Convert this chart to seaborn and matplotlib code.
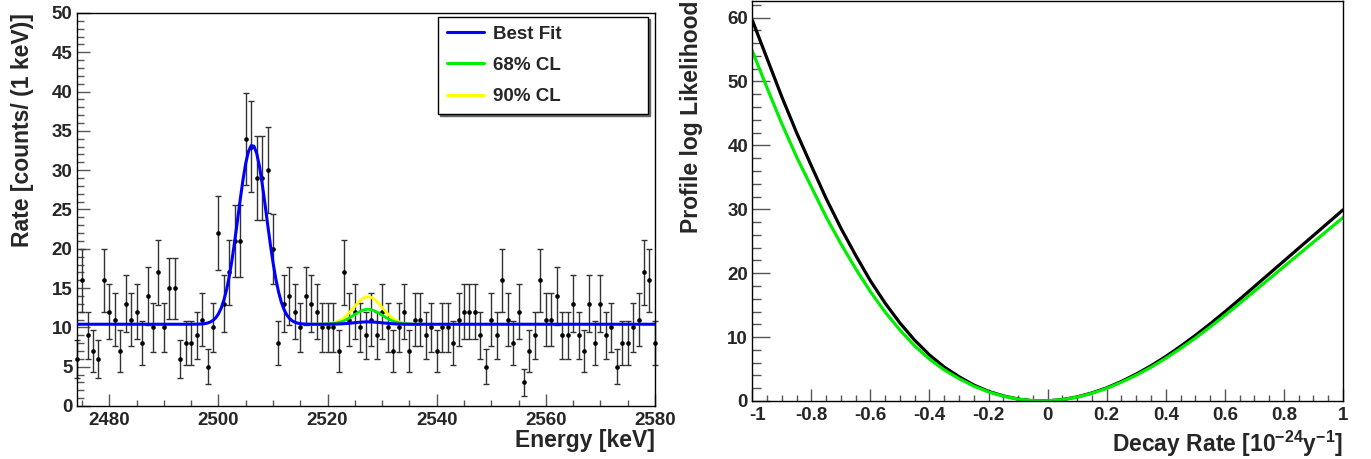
import numpy as np
import pandas as pd
import matplotlib
matplotlib.use("Agg")
import matplotlib.pyplot as plt
from matplotlib.lines import Line2D
from matplotlib.ticker import MultipleLocator
from matplotlib.transforms import ScaledTranslation
import seaborn as sns

# ---- left: energy spectrum, 1 keV bins ----
energy = np.arange(2474, 2581)
counts = [6, 16, 9, 7, 6, 16, 12, 11, 7, 13,
          11, 12, 8, 14, 10, 17, 10, 15, 15, 6,
          8, 8, 9, 11, 5, 10, 22, 13, 17, 21,
          21, 34, 33, 29, 29, 30, 20, 8, 13, 14,
          12, 10, 14, 13, 12, 10, 10, 10, 7, 17,
          11, 12, 10, 9, 11, 9, 12, 10, 7, 10,
          12, 7, 11, 11, 9, 10, 7, 10, 10, 8,
          11, 12, 12, 12, 9, 5, 11, 9, 16, 11,
          8, 12, 3, 7, 9, 16, 11, 11, 14, 9,
          9, 13, 9, 7, 13, 8, 13, 9, 10, 5,
          8, 8, 10, 11, 17, 16, 8]

background = 10.4

# best fit around the calibration peak (0.5 keV steps)
peak_energy = np.arange(2495.0, 2517.5, 0.5)
best_fit_peak = [10.40, 10.41, 10.41, 10.42, 10.44, 10.48, 10.56, 10.68, 10.89, 11.22,
                 11.73, 12.46, 13.49, 14.85, 16.58, 18.68, 21.09, 23.70, 26.34, 28.81,
                 30.90, 32.39, 33.13, 33.05, 32.15, 30.52, 28.34, 25.82, 23.16, 20.59,
                 18.24, 16.21, 14.55, 13.25, 12.29, 11.61, 11.15, 10.84, 10.65, 10.54,
                 10.47, 10.44, 10.42, 10.41, 10.40]

# region of interest around the signal line
roi_energy = np.arange(2517.0, 2537.5, 0.5)
best_fit_roi = [10.40, 10.40, 10.40, 10.40, 10.40, 10.40, 10.41, 10.41, 10.41, 10.42,
                10.43, 10.45, 10.47, 10.50, 10.53, 10.56, 10.60, 10.63, 10.66, 10.68,
                10.70, 10.70, 10.69, 10.67, 10.65, 10.62, 10.58, 10.55, 10.52, 10.49,
                10.46, 10.44, 10.43, 10.42, 10.41, 10.41, 10.40, 10.40, 10.40, 10.40,
                10.40]
cl68_roi = [10.40, 10.40, 10.40, 10.41, 10.41, 10.42, 10.43, 10.46, 10.49, 10.54,
            10.62, 10.72, 10.85, 11.02, 11.21, 11.42, 11.64, 11.85, 12.04, 12.19,
            12.28, 12.30, 12.25, 12.14, 11.97, 11.77, 11.55, 11.33, 11.13, 10.95,
            10.80, 10.68, 10.59, 10.52, 10.48, 10.45, 10.43, 10.41, 10.41, 10.40,
            10.40]
cl90_roi = [10.40, 10.40, 10.41, 10.41, 10.42, 10.43, 10.46, 10.50, 10.57, 10.67,
            10.80, 10.99, 11.24, 11.54, 11.89, 12.28, 12.69, 13.08, 13.43, 13.70,
            13.86, 13.90, 13.81, 13.60, 13.30, 12.93, 12.52, 12.12, 11.74, 11.41,
            11.13, 10.91, 10.74, 10.62, 10.54, 10.48, 10.45, 10.43, 10.41, 10.41,
            10.40]

# ---- right: profile likelihood scan ----
decay_rate = np.round(np.arange(-1.0, 1.0001, 0.05), 2)
nll_black = [59.6, 53.6, 47.6, 42.0, 36.8, 31.7, 27.05, 22.8, 18.8, 15.3,
             12.2, 9.5, 7.2, 5.3, 3.8, 2.5, 1.5, 0.8, 0.3, 0.04,
             0.02, 0.22, 0.64, 1.26, 2.06, 3.06, 4.21, 5.51, 6.96, 8.56,
             10.26, 12.06, 13.96, 15.91, 17.91, 19.91, 21.91, 23.91, 25.91, 27.91,
             29.91]
nll_green = [54.8, 49.0, 43.4, 38.2, 33.5, 28.8, 24.6, 20.7, 17.1, 13.9,
             11.1, 8.6, 6.55, 4.85, 3.5, 2.33, 1.41, 0.76, 0.28, 0.04,
             0.02, 0.21, 0.61, 1.21, 1.98, 2.94, 4.04, 5.29, 6.68, 8.22,
             9.85, 11.58, 13.4, 15.27, 17.19, 19.11, 21.03, 22.95, 24.87, 26.79,
             28.71]

sns.set_style("white")
plt.rcParams["font.family"] = ["Liberation Sans", "DejaVu Sans"]
plt.rcParams["font.weight"] = "bold"
plt.rcParams["axes.unicode_minus"] = False
plt.rcParams["mathtext.fontset"] = "custom"
plt.rcParams["mathtext.rm"] = "Liberation Sans:bold"
plt.rcParams["mathtext.it"] = "Liberation Sans:bold"
plt.rcParams["mathtext.bf"] = "Liberation Sans:bold"
plt.rcParams["mathtext.default"] = "rm"

BLUE, GREEN, YELLOW = "#0000ff", "#00ee00", "#ffff00"

fig = plt.figure(figsize=(13.71, 4.59), dpi=100)
ax1 = fig.add_axes([0.0559, 0.1155, 0.4218, 0.8562])
ax2 = fig.add_axes([0.5487, 0.1264, 0.4309, 0.8715])

# ---- spectrum ----
spec = pd.DataFrame({"energy": energy, "counts": counts})
ax1.errorbar(spec["energy"], spec["counts"], yerr=np.sqrt(spec["counts"]),
             fmt="none", ecolor="#333333", elinewidth=1.0, capsize=2.5,
             capthick=1.0, zorder=2, clip_on=False)
sns.scatterplot(data=spec, x="energy", y="counts", ax=ax1, color="black",
                s=11, marker="o", linewidth=0, zorder=3, clip_on=False)

fit_x = np.concatenate([[energy[0]], peak_energy, roi_energy[1:], [energy[-1]]])
fit_y = np.concatenate([[background], best_fit_peak, best_fit_roi[1:], [background]])
sns.lineplot(x=roi_energy, y=cl90_roi, ax=ax1, color=YELLOW, linewidth=2.0,
             estimator=None, sort=False, zorder=4)
sns.lineplot(x=roi_energy, y=cl68_roi, ax=ax1, color=GREEN, linewidth=2.0,
             estimator=None, sort=False, zorder=5)
sns.lineplot(x=fit_x, y=fit_y, ax=ax1, color=BLUE, linewidth=2.2,
             estimator=None, sort=False, zorder=6)

ax1.set_xlim(2474, 2580)
ax1.set_ylim(0, 50)
ax1.xaxis.set_major_locator(MultipleLocator(20))
ax1.xaxis.set_minor_locator(MultipleLocator(5))
ax1.yaxis.set_major_locator(MultipleLocator(5))
ax1.yaxis.set_minor_locator(MultipleLocator(1))
ax1.set_xlabel("Energy [keV]", fontsize=16.5, fontweight="bold", loc="right")
ax1.set_ylabel("Rate [counts/ (1 keV)]", fontsize=16.5, fontweight="bold", loc="top")
ax1.xaxis.set_label_coords(1.0, -0.058)
ax1.yaxis.set_label_coords(-0.074, 1.0)

handles = [Line2D([], [], color=BLUE, lw=2.2),
           Line2D([], [], color=GREEN, lw=2.2),
           Line2D([], [], color=YELLOW, lw=2.2)]
leg = ax1.legend(handles, ["Best Fit", "68% CL", "90% CL"],
                 loc="upper left", bbox_to_anchor=(0.6253, 0.7499, 0.3631, 0.2392),
                 mode="expand", borderaxespad=0, borderpad=0.45, labelspacing=0.75,
                 handlelength=1.97, handletextpad=0.52, fancybox=False,
                 framealpha=1, edgecolor="black",
                 shadow={"ox": 1.5, "oy": -1.5, "color": "#666666", "alpha": 1},
                 prop={"family": "Liberation Sans", "weight": "bold", "size": 13.5})
leg.get_frame().set_linewidth(1.0)

# ---- likelihood scan ----
scan = pd.DataFrame({"rate": decay_rate, "black": nll_black, "green": nll_green})
sns.lineplot(data=scan, x="rate", y="black", ax=ax2, color="black", linewidth=2.3,
             estimator=None, sort=False)
sns.lineplot(data=scan, x="rate", y="green", ax=ax2, color=GREEN, linewidth=2.3,
             estimator=None, sort=False)
ax2.set_xlim(-1, 1)
ax2.set_ylim(0, 62.6)
ax2.xaxis.set_major_locator(MultipleLocator(0.2))
ax2.xaxis.set_minor_locator(MultipleLocator(0.05))
ax2.yaxis.set_major_locator(MultipleLocator(10))
ax2.yaxis.set_minor_locator(MultipleLocator(2))
ax2.xaxis.set_major_formatter(plt.FuncFormatter(lambda v, p: f"{v:g}" if abs(v) > 1e-9 else "0"))
ax2.set_xlabel(r"Decay Rate [10$^{-24}$y$^{-1}$]", fontsize=16.5, fontweight="bold", loc="right")
ax2.set_ylabel("Profile log Likelihood", fontsize=16.5, fontweight="bold", loc="top")
ax2.xaxis.set_label_coords(1.0, -0.07)
ax2.yaxis.set_label_coords(-0.0826, 1.0)

for ax, ylen in ((ax1, (9.4, 5.0)), (ax2, (13.0, 6.5))):
    for s in ax.spines.values():
        s.set_visible(True)
        s.set_color("black")
        s.set_linewidth(1.0)
    ax.tick_params(axis="x", which="major", direction="in", length=8.6, width=1,
                   color="#555555", pad=4, labelsize=13.5, top=False, bottom=True)
    ax.tick_params(axis="x", which="minor", direction="in", length=4.3, width=1,
                   color="#555555", top=False, bottom=True)
    ax.tick_params(axis="y", which="major", direction="in", length=ylen[0], width=1,
                   color="#555555", pad=3, labelsize=13.5, right=False, left=True)
    ax.tick_params(axis="y", which="minor", direction="in", length=ylen[1], width=1,
                   color="#555555", right=False, left=True)
    for lab in ax.get_xticklabels() + ax.get_yticklabels():
        lab.set_fontweight("bold")

# nudge the "-1" label off the "0" label at the corner of the right panel
fig.canvas.draw()
for tick in ax2.xaxis.get_major_ticks():
    if abs(tick.get_loc() + 1.0) < 1e-6:
        lab = tick.label1
        lab.set_transform(lab.get_transform() + ScaledTranslation(0.05, 0, fig.dpi_scale_trans))

fig.savefig("out.png", dpi=100)
